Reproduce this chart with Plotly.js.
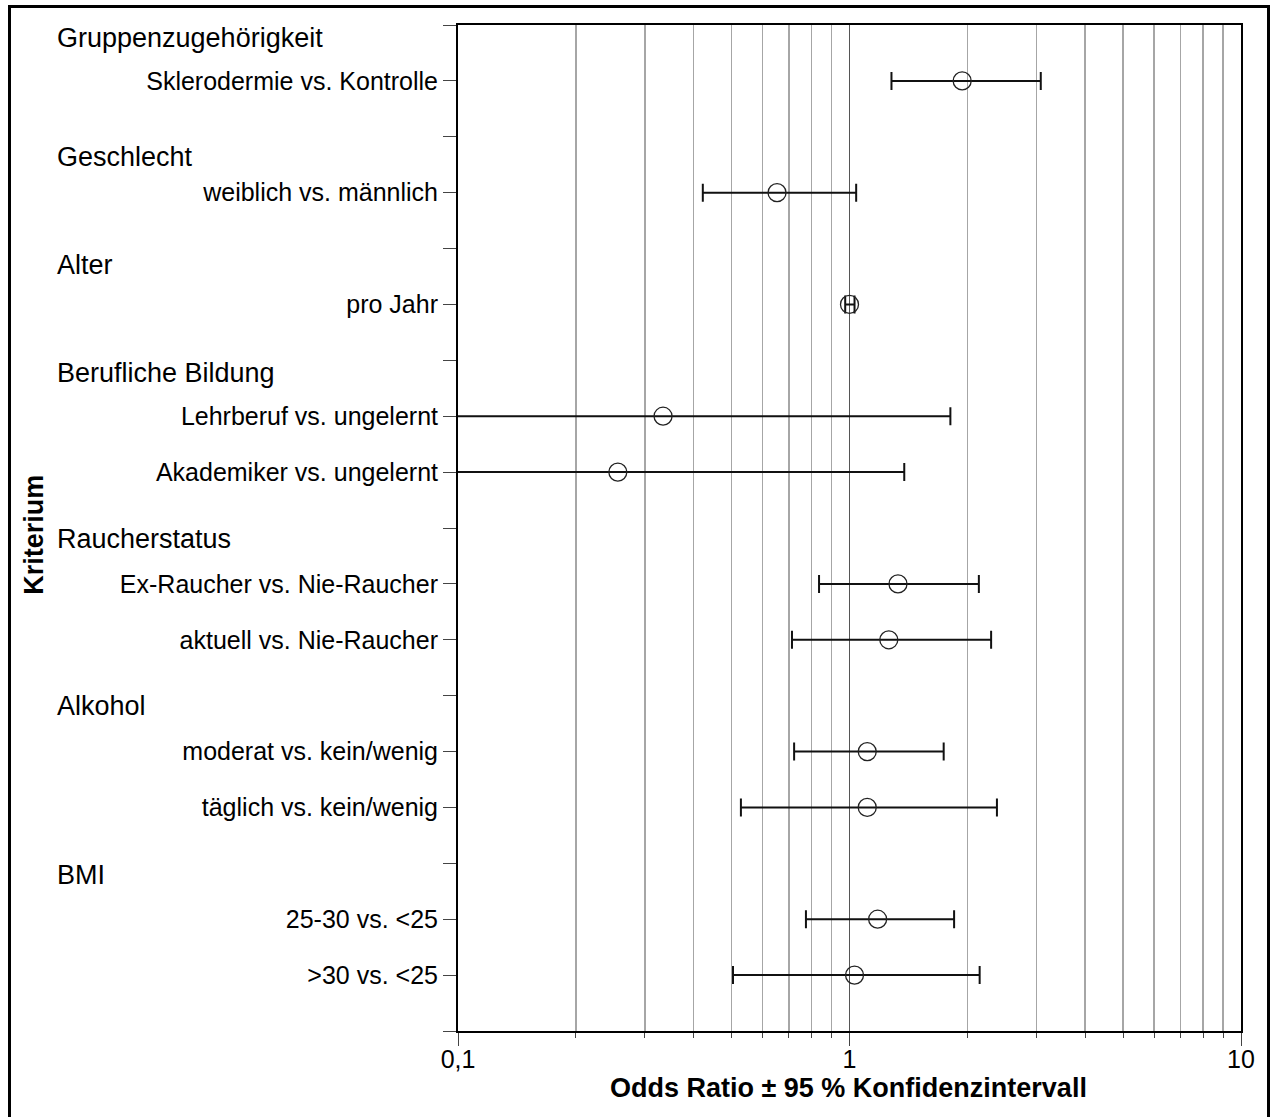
<!DOCTYPE html>
<html>
<head>
<meta charset="utf-8">
<script src="https://cdn.plot.ly/plotly-3.0.1.min.js"></script>
<style>
  html, body { margin: 0; padding: 0; background: #fff; overflow: hidden; }
  #wrap { position: relative; width: 1271px; height: 1117px; overflow: hidden; }
  #chart { position: absolute; left: 0; top: 0; width: 1271px; height: 1117px; }
  #frame { position: absolute; left: 8px; top: 5px; width: 1262px; height: 1130px;
           border: 3px solid #000; box-sizing: border-box; pointer-events: none; }
</style>
</head>
<body>
<div id="wrap">
  <div id="chart"></div>
  <div id="frame"></div>
</div>
<script>
// ---- data ----
const rowLabels = ["Sklerodermie vs. Kontrolle", "weiblich vs. männlich", "pro Jahr",
  "Lehrberuf vs. ungelernt", "Akademiker vs. ungelernt",
  "Ex-Raucher vs. Nie-Raucher", "aktuell vs. Nie-Raucher",
  "moderat vs. kein/wenig", "täglich vs. kein/wenig",
  "25-30 vs. <25", ">30 vs. <25"];
const rowPos = [1, 3, 5, 7, 8, 10, 11, 13, 14, 16, 17];
const oddsRatio = [1.94, 0.653, 1.00, 0.334, 0.256, 1.33, 1.26, 1.11, 1.11, 1.18, 1.03];
const ciLower   = [1.28, 0.422, 0.975, 0.06, 0.05, 0.836, 0.713, 0.722, 0.528, 0.774, 0.504];
const ciUpper   = [3.08, 1.04, 1.03, 1.81, 1.38, 2.14, 2.30, 1.74, 2.38, 1.85, 2.15];

const groupLabels = ["Gruppenzugehörigkeit", "Geschlecht", "Alter", "Berufliche Bildung",
  "Raucherstatus", "Alkohol", "BMI"];
const groupPos = [0.24, 2.36, 4.3, 6.22, 9.2, 12.18, 15.2];

const emptyTicks = [0, 2, 4, 6, 9, 12, 15, 18];
const xMajorTicks = [0.1, 1, 10];
const xMajorText = ["0,1", "1", "10"];
const xMinorTicks = [0.2, 0.3, 0.4, 0.5, 0.6, 0.7, 0.8, 0.9, 2, 3, 4, 5, 6, 7, 8, 9];

const xTitle = "Odds Ratio ± 95 % Konfidenzintervall";
const yTitle = "Kriterium";

// ---- build ----
const tickvals = rowPos.concat(emptyTicks);
const ticktext = rowLabels.concat(emptyTicks.map(() => ""));

const FONT = "Liberation Sans, Arial, Helvetica, sans-serif";

const trace = {
  type: "scatter",
  mode: "markers",
  x: oddsRatio,
  y: rowPos,
  marker: { symbol: "circle-open", size: 18, color: "#222", line: { width: 1.3, color: "#222" } },
  error_x: {
    type: "data", symmetric: false,
    array: ciUpper.map((u, i) => u - oddsRatio[i]),
    arrayminus: ciLower.map((l, i) => oddsRatio[i] - l),
    color: "#111", thickness: 2, width: 9
  },
  hoverinfo: "skip",
  showlegend: false
};

const annotations = groupLabels.map((g, i) => ({
  text: g, xref: "paper", yref: "y", x: -0.515, y: groupPos[i],
  xanchor: "left", yanchor: "middle", showarrow: false,
  font: { family: FONT, size: 27, color: "#000" }
}));
annotations.push({
  text: "<b>" + yTitle + "</b>", xref: "paper", yref: "paper",
  x: -0.542, y: 0.493, xanchor: "center", yanchor: "middle",
  textangle: -90, showarrow: false,
  font: { family: FONT, size: 27, color: "#000" }
});
annotations.push({
  text: "<b>" + xTitle + "</b>", xref: "paper", yref: "paper",
  x: 0.499, y: -0.0566, xanchor: "center", yanchor: "middle",
  showarrow: false,
  font: { family: FONT, size: 27, color: "#000" }
});

const layout = {
  width: 1271, height: 1117,
  margin: { l: 458, r: 30, t: 25, b: 86 },
  paper_bgcolor: "#fff", plot_bgcolor: "#fff",
  font: { family: FONT, color: "#000" },
  xaxis: {
    type: "log", range: [-1, 1],
    tickmode: "array", tickvals: xMajorTicks, ticktext: xMajorText,
    ticks: "outside", ticklen: 13, tickwidth: 1, tickcolor: "#444",
    ticklabelstandoff: -8,
    tickfont: { family: FONT, size: 25, color: "#000" },
    showgrid: true, gridcolor: "#555", gridwidth: 1.5,
    minor: { tickmode: "array", tickvals: xMinorTicks, ticks: "outside", ticklen: 5,
             tickwidth: 1, tickcolor: "#444", showgrid: true, gridcolor: "#a6a6a6", gridwidth: 1.5 },
    showline: true, linecolor: "#000", linewidth: 2, mirror: true,
    zeroline: false
  },
  yaxis: {
    range: [18, 0],
    tickmode: "array", tickvals: tickvals, ticktext: ticktext,
    ticks: "outside", ticklen: 13, tickwidth: 1, tickcolor: "#444",
    tickfont: { family: FONT, size: 25, color: "#000" },
    showgrid: false, zeroline: false,
    showline: true, linecolor: "#000", linewidth: 2, mirror: true
  },
  annotations: annotations
};

Plotly.newPlot("chart", [trace], layout, { displayModeBar: false, staticPlot: true });
</script>
</body>
</html>
